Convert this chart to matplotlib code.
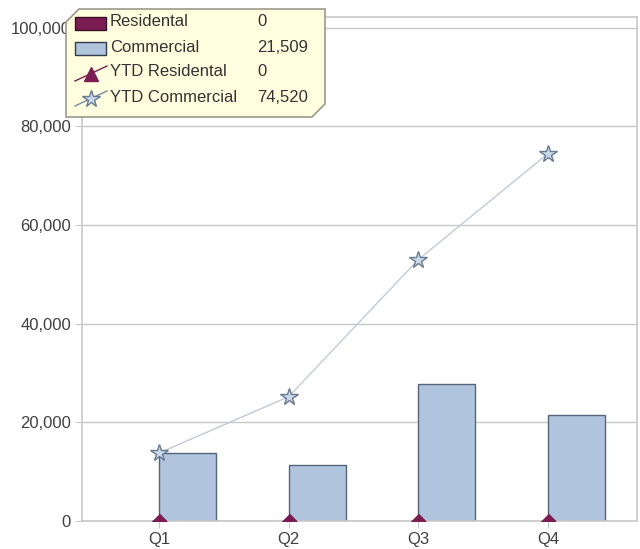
import matplotlib.pyplot as plt
from matplotlib.patches import Polygon, Rectangle
from matplotlib.lines import Line2D
from matplotlib.ticker import FuncFormatter

quarters = ['Q1', 'Q2', 'Q3', 'Q4']
residental = [0, 0, 0, 0]
commercial = [13800, 11400, 27811, 21509]
ytd_residental = [0, 0, 0, 0]
ytd_commercial = [13800, 25200, 53011, 74520]

legend_names = ['Residental', 'Commercial', 'YTD Residental', 'YTD Commercial']
legend_values = ['0', '21,509', '0', '74,520']

res_color = '#7b1d52'
com_color = '#b0c4de'
com_edge = '#56647a'
line_color = '#c2cad8'
star_fill = '#c9d8ea'
star_edge = '#6a7a90'
grid_color = '#c8c8c8'
text_color = '#404040'

plt.rcParams['font.family'] = ['Liberation Sans', 'DejaVu Sans']

fig = plt.figure(figsize=(6.4, 5.49), dpi=100)
ax = fig.add_axes([82 / 640, 28 / 549, 555 / 640, 504 / 549])

x = list(range(len(quarters)))
w = 0.44
ax.bar([i - w for i in x], residental, width=w, align='edge', color=res_color,
       linewidth=0, zorder=3)
ax.bar(x, commercial, width=w, align='edge', color=com_color, edgecolor=com_edge,
       linewidth=1.0, zorder=3)
# zero line sits under the bottom spine; only the top half of each triangle shows
half_tri = [(-1, 0), (1, 0), (0, 1)]
ax.plot(x, ytd_residental, color=res_color, linewidth=0.8, zorder=2)
ax.plot(x, ytd_residental, linestyle='none', marker=half_tri, markersize=10.5,
        markerfacecolor=res_color, markeredgecolor=res_color, zorder=4)
ax.plot(x, ytd_commercial, color=line_color, linewidth=1, marker='*', markersize=13,
        markerfacecolor=star_fill, markeredgecolor=star_edge, markeredgewidth=1,
        zorder=5, clip_on=False)

ax.set_xlim(-0.594, 3.686)
ax.set_ylim(0, 102200)
ax.set_xticks(x)
ax.set_xticklabels(quarters)
ax.set_yticks([0, 20000, 40000, 60000, 80000, 100000])
ax.yaxis.set_major_formatter(FuncFormatter(lambda v, p: f'{int(v):,}'))
ax.grid(axis='y', color=grid_color, linewidth=1, zorder=0)
for s in ax.spines.values():
    s.set_color(grid_color)
    s.set_linewidth(1.2)
ax.spines['bottom'].set_zorder(3.5)
ax.tick_params(colors=grid_color, labelcolor=text_color, labelsize=12, length=5, pad=3)

# tooltip-style legend drawn in pixel coords
ov = fig.add_axes([0, 0, 1, 1], zorder=10)
ov.set_xlim(0, 640)
ov.set_ylim(549, 0)
ov.axis('off')
box = [(66, 22), (79, 9), (325, 9), (325, 104), (312, 117), (66, 117)]
ov.add_patch(Polygon(box, closed=True, facecolor='#ffffdf', edgecolor='#9a9a8a',
                     linewidth=1.2))

rows_y = [22, 47, 72, 97]
ov.add_patch(Rectangle((75, 17), 31, 13, facecolor=res_color, edgecolor='#3a1028', lw=1))
ov.add_patch(Rectangle((75, 42), 31, 13, facecolor=com_color, edgecolor='#303a48', lw=1))
ov.add_line(Line2D([75, 107], [81, 66], color=res_color, lw=1))
ov.plot(91, 74, marker='^', markersize=10, color=res_color)
ov.add_line(Line2D([75, 107], [106, 91], color='#7a8aa8', lw=1))
ov.plot(91, 99, marker='*', markersize=13, markerfacecolor=star_fill,
        markeredgecolor=star_edge, markeredgewidth=1)
for name, val, yy in zip(legend_names, legend_values, rows_y):
    ov.text(110, yy, name, fontsize=12, color='#333333', va='center', ha='left')
    ov.text(257, yy, val, fontsize=12, color='#333333', va='center', ha='left')

fig.savefig('out.png', dpi=100)
